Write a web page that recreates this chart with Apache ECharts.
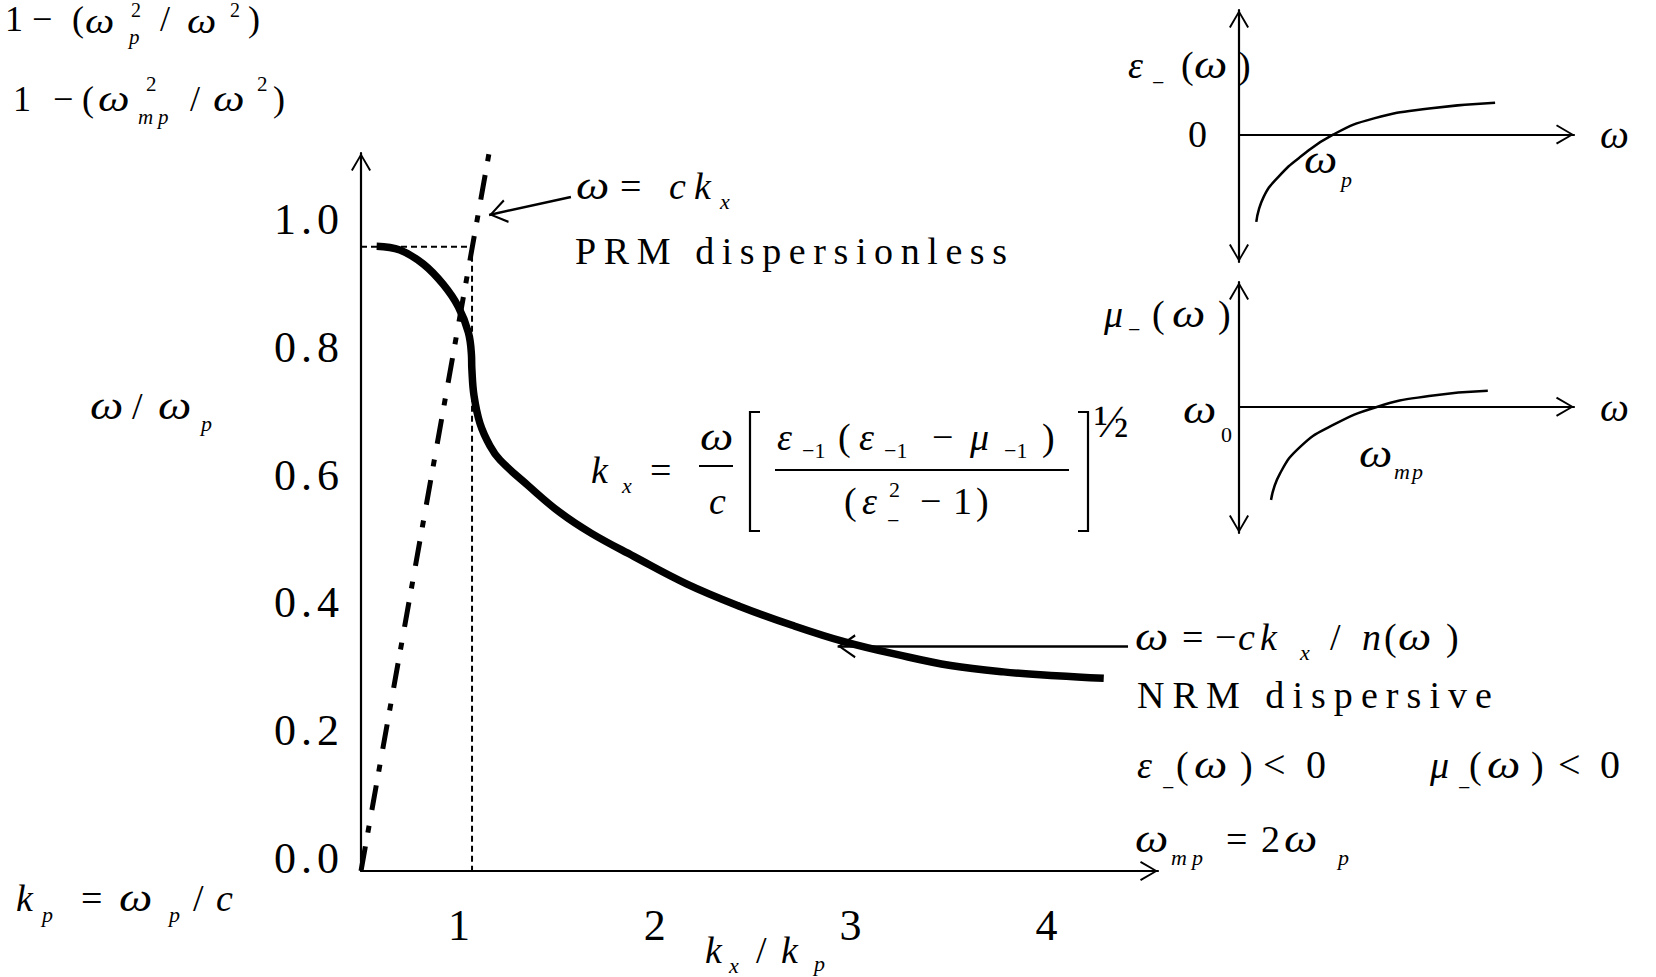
<!DOCTYPE html>
<html>
<head>
<meta charset="utf-8">
<script src="https://cdn.jsdelivr.net/npm/echarts@6/dist/echarts.min.js"></script>
<style>
  html, body { margin: 0; padding: 0; background: #fff; }
  #main { width: 1656px; height: 977px; }
</style>
</head>
<body>
<div id="main"></div>
<script>
// ---- data -------------------------------------------------------------
// NRM dispersion branch: k_x/k_p versus ω/ω_p
const kxNRM = [0.580, 0.699, 0.818, 0.920, 0.997, 1.048, 1.064, 1.066, 1.077, 1.108,
               1.159, 1.210, 1.353, 1.515, 1.677, 1.893, 2.162, 2.432, 2.702, 2.971,
               3.241, 3.511, 3.780, 4.050, 4.293];
const wNRM  = [0.979, 0.973, 0.951, 0.919, 0.884, 0.844, 0.809, 0.787, 0.745, 0.701,
               0.666, 0.644, 0.604, 0.562, 0.529, 0.493, 0.450, 0.415, 0.385, 0.359,
               0.339, 0.322, 0.312, 0.306, 0.302];
// light line ω = c k_x (PRM, dispersionless)
const kxLight = [0.5, 1.154];
const wLight  = [0, 1.125];
// guide from the top of the branch to the light line and down to the axis
const kxGuide = [0.5, 1.067, 1.067];
const wGuide  = [0.978, 0.978, 0];
// pointer arrows: [tail, head]
const arrowLight = [[1.572, 1.056], [1.154, 1.028]];
const arrowNRM   = [[4.417, 0.352], [2.934, 0.352]];
// tick labels
const yTicks = [0, 0.2, 0.4, 0.6, 0.8, 1.0];
const xTicks = [1, 2, 3, 4];
// inset: ε_(ω)
const wEps = [0.183, 0.261, 0.417, 0.650, 1.0, 1.428, 2.011, 2.710];
const eps  = [-2.73, -1.95, -1.325, -0.70, 0, 0.50, 0.81, 0.99];
// inset: μ_(ω)
const wMu = [0.339, 0.436, 0.650, 0.961, 1.467, 2.011, 2.633];
const mu  = [-2.92, -2.08, -1.25, -0.625, 0, 0.334, 0.5];

// ---- helpers ----------------------------------------------------------
const SERIF = 'Liberation Serif, Times New Roman, serif';
const pairs = (xs, ys) => xs.map((x, i) => [x, ys[i]]);
// open chevron pointing up, apex at the centre of its box
const CHEVRON = 'path://M10,0 L20,17 L18.3,18 L10,3.4 L1.7,18 L0,17 Z M10,-18 L10.01,-18 L10,-17.99 Z';

// text piece: [string, left x, baseline y, font size, italic]
// the omega is set a little larger and wider, as in the equation-editor original
function piece(p) {
  const omega = p[0] === 'ω';
  const size = omega ? p[3] * 1.08 : p[3];
  return {
    type: 'text', silent: true, x: p[1], y: p[2] - 0.34 * size,
    scaleX: omega ? 1.15 : 1,
    style: {
      text: p[0], fill: '#000', verticalAlign: 'middle', align: 'left',
      fontFamily: SERIF, fontSize: size, fontStyle: p[4] ? 'italic' : 'normal',
      lineHeight: Math.round(size * 0.8)
    }
  };
}
function rule(x1, y1, x2, y2, w) {
  return { type: 'line', silent: true, shape: { x1, y1, x2, y2 }, style: { stroke: '#000', lineWidth: w } };
}
function bracket(pts) {
  return { type: 'polyline', silent: true, shape: { points: pts }, style: { stroke: '#000', lineWidth: 2.2, fill: null } };
}

// ---- annotation layout ------------------------------------------------
const texts = [
  // 1 − (ω_p² / ω²)
  ['1', 5, 31, 36, 0], ['−', 32, 31, 36, 0], ['(', 72, 31, 36, 0], ['ω', 85, 33, 33.4, 1],
  ['2', 131, 17, 20, 0], ['p', 129, 44, 21, 1], ['/', 160, 31, 36, 0], ['ω', 187, 33, 33.4, 1],
  ['2', 230, 17, 20, 0], [')', 248, 31, 36, 0],
  // 1 − (ω_mp² / ω²)
  ['1', 13, 111, 36, 0], ['−', 53, 111, 36, 0], ['(', 82, 111, 36, 0], ['ω', 98, 111, 36, 1],
  ['2', 146, 91, 21, 0], ['m', 138, 124, 21, 1], ['p', 158, 124, 21, 1], ['/', 190, 111, 36, 0],
  ['ω', 213, 111, 36, 1], ['2', 257, 91, 21, 0], [')', 273, 111, 36, 0],
  // ω / ω_p
  ['ω', 90, 419, 38, 1], ['/', 132, 419, 38, 0], ['ω', 158, 419, 38, 1], ['p', 201, 431, 22, 1],
  // k_p = ω_p / c
  ['k', 16, 911, 38, 1], ['p', 42, 922, 22, 1], ['=', 81, 911, 38, 0], ['ω', 119, 911, 38, 1],
  ['p', 169, 922, 22, 1], ['/', 193, 911, 38, 0], ['c', 216, 911, 38, 1],
  // k_x / k_p
  ['k', 705, 963, 38, 1], ['x', 729, 973, 22, 1], ['/', 756, 963, 38, 0], ['k', 781, 963, 38, 1],
  ['p', 814, 971, 22, 1],
  // ω = c k_x,  PRM dispersionless
  ['ω', 576, 199, 38, 1], ['=', 620, 199, 38, 0], ['c', 669, 199, 38, 1], ['k', 694, 199, 38, 1],
  ['x', 720, 209, 22, 1],
  ['PRM dispersionless', 575, 264, 38, 0],
  // k_x = (ω/c)[ε_-1(ε_-1 − μ_-1)/(ε_−² − 1)]^½
  ['k', 591, 483, 38, 1], ['x', 622, 493, 22, 1], ['=', 650, 483, 38, 0],
  ['ω', 700, 450, 38, 1], ['c', 709, 514, 38, 1],
  ['ε', 777, 450, 38, 1], ['−1', 802, 458, 22, 0], ['(', 838, 450, 38, 0], ['ε', 859, 450, 38, 1],
  ['−1', 884, 458, 22, 0], ['−', 932, 450, 38, 0], ['μ', 970, 450, 38, 1], ['−1', 1004, 458, 22, 0],
  [')', 1042, 450, 38, 0],
  ['(', 844, 514, 38, 0], ['ε', 862, 514, 38, 1], ['2', 889, 497, 22, 0], ['−', 887, 528, 22, 0],
  ['−', 920, 514, 38, 0], ['1', 953, 514, 38, 0], [')', 976, 514, 38, 0],
  ['½', 1094, 437, 46, 0],
  // ω = −c k_x / n(ω)
  ['ω', 1135, 650, 38, 1], ['=', 1182, 650, 38, 0], ['−', 1215, 650, 38, 0], ['c', 1238, 650, 38, 1],
  ['k', 1260, 650, 38, 1], ['x', 1300, 660, 22, 1], ['/', 1330, 650, 38, 0], ['n', 1362, 650, 38, 1],
  ['(', 1384, 650, 38, 0], ['ω', 1398, 650, 38, 1], [')', 1446, 650, 38, 0],
  ['NRM dispersive', 1137, 708, 38, 0],
  // ε_(ω) < 0   μ_(ω) < 0
  ['ε', 1137, 778, 38, 1], ['−', 1162, 795, 22, 0], ['(', 1176, 778, 38, 0], ['ω', 1194, 778, 38, 1],
  [')', 1240, 778, 38, 0], ['<', 1263, 778, 40, 0], ['0', 1306, 778, 40, 0],
  ['μ', 1430, 778, 38, 1], ['−', 1458, 795, 22, 0], ['(', 1469, 778, 38, 0], ['ω', 1487, 778, 38, 1],
  [')', 1531, 778, 38, 0], ['<', 1558, 778, 40, 0], ['0', 1600, 778, 40, 0],
  // ω_mp = 2 ω_p
  ['ω', 1135, 852, 38, 1], ['m', 1171, 865, 22, 1], ['p', 1192, 865, 22, 1], ['=', 1226, 852, 38, 0],
  ['2', 1261, 852, 38, 0], ['ω', 1284, 852, 38, 1], ['p', 1338, 865, 22, 1],
  // inset labels
  ['ε', 1128, 78, 38, 1], ['−', 1152, 90, 22, 0], ['(', 1181, 78, 38, 0], ['ω', 1194, 78, 38, 1],
  [')', 1238, 78, 38, 0],
  ['ω', 1304, 173, 38, 1], ['p', 1341, 187, 22, 1],
  ['μ', 1104, 327, 38, 1], ['−', 1128, 337, 22, 0], ['(', 1152, 327, 38, 0], ['ω', 1172, 327, 38, 1],
  [')', 1218, 327, 38, 0],
  ['ω', 1183, 423, 38, 1], ['0', 1221, 442, 22, 0],
  ['ω', 1359, 467, 38, 1], ['m', 1394, 479, 22, 1], ['p', 1412, 479, 22, 1]
];
// stretched words and their full widths
const SPREAD = { 'PRM dispersionless': 432, 'NRM dispersive': 355 };

const graphicElements = texts.map(piece).concat([
  rule(699, 466, 733, 466, 2),
  rule(775, 470, 1069, 470, 2),
  bracket([[760, 412], [750, 412], [750, 531], [760, 531]]),
  bracket([[1078, 412], [1088, 412], [1088, 531], [1078, 531]])
]);

// ---- axes -------------------------------------------------------------
const blackLine = { color: '#000', width: 2.2 };
function insetX(grid) {
  return {
    gridIndex: grid, type: 'value', min: 0, max: 3.545,
    axisLine: { show: true, onZero: true, symbol: ['none', CHEVRON], symbolSize: [20, 36], lineStyle: blackLine },
    axisTick: { show: false }, axisLabel: { show: false }, splitLine: { show: false },
    name: 'ω', nameLocation: 'end', nameGap: 26,
    nameTextStyle: { fontSize: 41, fontStyle: 'italic', fontFamily: SERIF, color: '#000' }
  };
}
function insetY(grid, min, max, zeroLabel) {
  return {
    gridIndex: grid, type: 'value', min: min, max: max,
    axisLine: { show: true, onZero: false, symbol: [CHEVRON, CHEVRON], symbolSize: [20, 36], lineStyle: blackLine },
    axisTick: { show: false }, splitLine: { show: false },
    axisLabel: zeroLabel
      ? { customValues: [0], formatter: () => '0', fontSize: 38, fontFamily: SERIF, color: '#000', margin: 32 }
      : { show: false }
  };
}

const option = {
  animation: false,
  backgroundColor: '#fff',
  textStyle: { fontFamily: SERIF },
  graphic: { elements: graphicElements },
  grid: [
    { left: 361, top: 153, width: 797, height: 718 },
    { left: 1239, top: 10, width: 335, height: 252 },
    { left: 1239, top: 282, width: 335, height: 251 }
  ],
  xAxis: [
    {
      gridIndex: 0, type: 'value', min: 0.5, max: 4.57,
      axisLine: { show: true, onZero: false, symbol: ['none', CHEVRON], symbolSize: [20, 36], lineStyle: blackLine },
      axisTick: { show: false }, splitLine: { show: false },
      axisLabel: { customValues: xTicks, formatter: v => String(v), fontSize: 44, fontFamily: SERIF, color: '#000', margin: 32 }
    },
    insetX(1),
    insetX(2)
  ],
  yAxis: [
    {
      gridIndex: 0, type: 'value', min: 0, max: 1.125,
      axisLine: { show: true, onZero: false, symbol: ['none', CHEVRON], symbolSize: [20, 36], lineStyle: blackLine },
      axisTick: { show: false }, splitLine: { show: false },
      axisLabel: {
        customValues: yTicks, formatter: v => v.toFixed(1), fontSize: 44, fontFamily: SERIF,
        color: '#000', margin: 17, verticalAlign: 'bottom', lineHeight: 26
      }
    },
    insetY(1, -3.98, 3.88, true),
    insetY(2, -3.956, 3.906, false)
  ],
  series: [
    {
      type: 'line', xAxisIndex: 0, yAxisIndex: 0, data: pairs(kxNRM, wNRM),
      smooth: 0.4, symbol: 'none', silent: true, z: 4,
      lineStyle: { color: '#000', width: 7.5, cap: 'butt' }
    },
    {
      type: 'line', xAxisIndex: 0, yAxisIndex: 0, data: pairs(kxLight, wLight),
      symbol: 'none', silent: true, z: 3,
      lineStyle: { color: '#000', width: 5, type: [25, 14, 7, 16], cap: 'butt' }
    },
    {
      type: 'line', xAxisIndex: 0, yAxisIndex: 0, data: pairs(kxGuide, wGuide),
      symbol: 'none', silent: true, z: 2,
      lineStyle: { color: '#000', width: 2, type: [6, 4] }
    },
    {
      type: 'lines', coordinateSystem: 'cartesian2d', xAxisIndex: 0, yAxisIndex: 0, silent: true, z: 5,
      data: [{ coords: arrowLight }, { coords: arrowNRM }],
      symbol: ['none', CHEVRON], symbolSize: [10, [24, 36]],
      lineStyle: { color: '#000', width: 2.5, opacity: 1, curveness: 0 }
    },
    {
      type: 'line', xAxisIndex: 1, yAxisIndex: 1, data: pairs(wEps, eps),
      smooth: true, symbol: 'none', silent: true,
      lineStyle: { color: '#000', width: 2.5 }
    },
    {
      type: 'line', xAxisIndex: 2, yAxisIndex: 2, data: pairs(wMu, mu),
      smooth: true, symbol: 'none', silent: true,
      lineStyle: { color: '#000', width: 2.5 }
    }
  ]
};

const chart = echarts.init(document.getElementById('main'), null, { renderer: 'svg' });
chart.setOption(option);

// spread the letters of the two caption words over their full width,
// and open up the decimal tick labels a little
function spread() {
  document.querySelectorAll('#main text').forEach(function (node) {
    if (node.getAttribute('data-spread')) return;
    const s = node.textContent;
    const target = SPREAD[s];
    if (target) {
      const natural = node.getComputedTextLength();
      node.setAttribute('letter-spacing', ((target - natural) / (s.length - 1)).toFixed(2));
      node.setAttribute('data-spread', '1');
    } else if (/^\d\.\d$/.test(s)) {
      node.setAttribute('letter-spacing', '5');
      node.setAttribute('data-spread', '1');
    }
  });
}
chart.on('finished', spread);
spread();
setTimeout(spread, 50);
</script>
</body>
</html>
